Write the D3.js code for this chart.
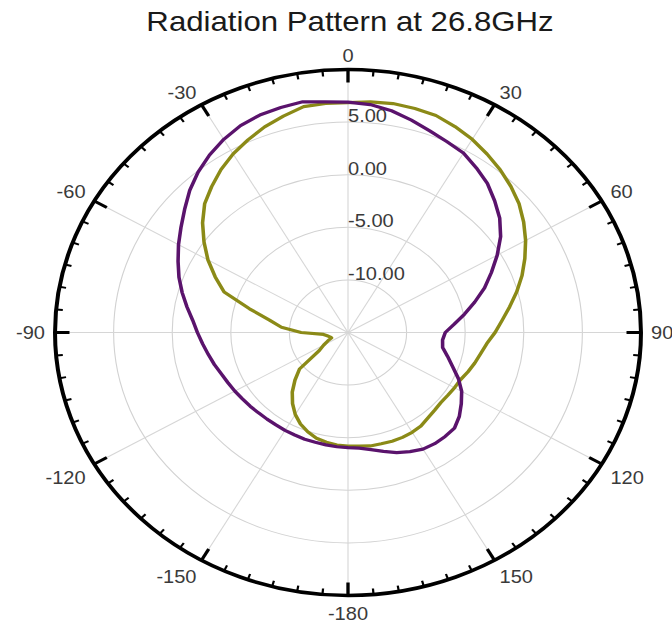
<!DOCTYPE html>
<html>
<head>
<meta charset="utf-8">
<script src="https://cdn.jsdelivr.net/npm/d3@7"></script>
<style>
body { margin: 0; background: #fff; }
text { font-family: "Liberation Sans", Arial, sans-serif; }
</style>
</head>
<body>
<svg id="chart" width="672" height="626"></svg>
<script>
var title = "Radiation Pattern at 26.8GHz";

var angleDeg = [0, 5, 10, 15, 20, 25, 30, 35, 40, 45, 50, 55, 60, 65, 70, 75, 80, 85, 90,
    95, 100, 105, 110, 115, 120, 125, 130, 135, 140, 145, 150, 155, 160, 165, 170, 175, 180,
    185, 190, 195, 200, 205, 210, 215, 220, 225, 230, 235, 240, 245, 250, 255, 260, 265, 270,
    275, 280, 285, 290, 295, 300, 305, 310, 315, 320, 325, 330, 335, 340, 345, 350, 355];

var purpleDb = [6.9, 6.75, 6.4, 5.9, 5.4, 5.0, 4.7, 4.1, 3.5, 2.7, 1.9, 0.9, -0.3, -1.5, -2.6, -3.8, -4.9, -5.9, -6.7,
    -6.9, -6.8, -6.2, -5.5, -4.6, -3.8, -3.2, -2.6, -2.15, -2.1, -2.1, -2.2, -2.5, -2.85, -3.3, -3.7, -3.97, -4.05,
    -4.1, -4.15, -4.2, -4.2, -4.25, -4.25, -4.28, -4.25, -4.2, -4.1, -4.0, -3.85, -3.7, -3.5, -3.2, -2.9, -2.55, -2.15,
    -1.7, -1.05, -0.35, 0.35, 1.0, 1.7, 2.4, 3.2, 4.1, 4.9, 5.6, 6.2, 6.7, 7.0, 7.15, 7.27, 7.0];

var oliveDb = [6.85, 7.0, 7.1, 7.05, 6.95, 6.6, 6.2, 5.7, 5.2, 4.65, 4.05, 3.3, 2.5, 1.65, 0.8, -0.1, -1.0, -1.8, -2.45,
    -3.1, -3.5, -3.8, -4.1, -4.4, -4.5, -4.6, -4.65, -4.55, -4.4, -4.15, -4.05, -4.0, -4.0, -4.05, -4.05, -4.15, -4.2,
    -4.26, -4.4, -4.6, -4.95, -5.4, -6.0, -6.75, -7.6, -8.6, -9.6, -12.0, -12.6, -13.1, -13.5, -13.4, -13.2, -12.9, -11.0,
    -9.3, -8.2, -6.3, -3.75, -2.5, -1.2, 0.0, 1.2, 2.3, 3.1, 3.9, 4.6, 5.2, 5.8, 6.3, 6.8, 6.85];

var radialTicks = [-10, -5, 0, 5];
var radialTickLabels = ["-10.00", "-5.00", "0.00", "5.00"];
var angleTicks = [0, 30, 60, 90, 120, 150, 180, 210, 240, 270, 300, 330];
var angleTickLabels = ["0", "30", "60", "90", "120", "150", "-180", "-150", "-120", "-90", "-60", "-30"];

var svg = d3.select("#chart");

var cx = 348, cy = 332.5, R = 263;
var stretch = 1.114;   // the picture is wider than tall

var r = d3.scaleLinear().domain([-15, 10]).range([0, R]);
var ang = d3.scaleLinear().domain([0, 360]).range([0, 2 * Math.PI]);

var g = svg.append("g")
    .attr("transform", "translate(" + cx + "," + cy + ") scale(" + stretch + ",1)");

// grid circles
g.selectAll(".grid")
    .data(radialTicks)
    .enter()
    .append("circle")
    .attr("r", function(d) { return r(d); })
    .attr("fill", "none")
    .attr("stroke", "#d2d2d2")
    .attr("stroke-width", 1);

// spokes
g.selectAll(".spoke")
    .data(angleTicks)
    .enter()
    .append("line")
    .attr("x1", 0).attr("y1", 0)
    .attr("x2", function(d) { return R * Math.sin(ang(d)); })
    .attr("y2", function(d) { return -R * Math.cos(ang(d)); })
    .attr("stroke", "#d6d6d6")
    .attr("stroke-width", 1);

// radial labels
g.selectAll(".rlabel")
    .data(radialTicks)
    .enter()
    .append("text")
    .attr("x", 0)
    .attr("y", function(d) { return -r(d); })
    .attr("font-size", 18)
    .attr("fill", "#3a3a3a")
    .text(function(d, i) { return radialTickLabels[i]; });

// data lines
var line = d3.lineRadial()
    .angle(function(d) { return ang(d[0]); })
    .radius(function(d) { return r(d[1]); })
    .curve(d3.curveLinearClosed);

g.append("path")
    .datum(angleDeg.map(function(a, i) { return [a, oliveDb[i]]; }))
    .attr("d", line)
    .attr("fill", "none")
    .attr("stroke", "#8b8a17")
    .attr("stroke-width", 3.2)
    .attr("stroke-linejoin", "round");

g.append("path")
    .datum(angleDeg.map(function(a, i) { return [a, purpleDb[i]]; }))
    .attr("d", line)
    .attr("fill", "none")
    .attr("stroke", "#5a136c")
    .attr("stroke-width", 3.2)
    .attr("stroke-linejoin", "round");

// outer ring
g.append("circle")
    .attr("r", R)
    .attr("fill", "none")
    .attr("stroke", "#000")
    .attr("stroke-width", 3.6);

// ring ticks, minor every 5 deg, major every 30
var ringTicks = d3.range(0, 360, 5);
g.selectAll(".rtick")
    .data(ringTicks)
    .enter()
    .append("line")
    .attr("x1", function(d) { return R * Math.sin(ang(d)); })
    .attr("y1", function(d) { return -R * Math.cos(ang(d)); })
    .attr("x2", function(d) {
        var len = d % 30 === 0 ? 13 : 6;
        return (R - len) * Math.sin(ang(d));
    })
    .attr("y2", function(d) {
        var len = d % 30 === 0 ? 13 : 6;
        return -(R - len) * Math.cos(ang(d));
    })
    .attr("stroke", "#000")
    .attr("stroke-width", function(d) { return d % 30 === 0 ? 3 : 2; });

// angle labels
g.selectAll(".alabel")
    .data(angleTicks)
    .enter()
    .append("text")
    .attr("x", function(d) { return (R + 9) * Math.sin(ang(d)); })
    .attr("y", function(d) { return -(R + 9) * Math.cos(ang(d)); })
    .attr("dy", function(d) {
        var c = Math.cos(ang(d));
        if (c > 0.01) return "0.1em";
        if (c < -0.01) return "0.85em";
        return "0.35em";
    })
    .attr("text-anchor", function(d) {
        var s = Math.sin(ang(d));
        if (s > 0.01) return "start";
        if (s < -0.01) return "end";
        return "middle";
    })
    .attr("font-size", 18)
    .attr("fill", "#3a3a3a")
    .text(function(d, i) { return angleTickLabels[i]; });

// title
svg.append("text")
    .attr("transform", "translate(350,31) scale(" + stretch + ",1)")
    .attr("text-anchor", "middle")
    .attr("font-size", 28)
    .attr("fill", "#1a1a1a")
    .text(title);
</script>
</body>
</html>
